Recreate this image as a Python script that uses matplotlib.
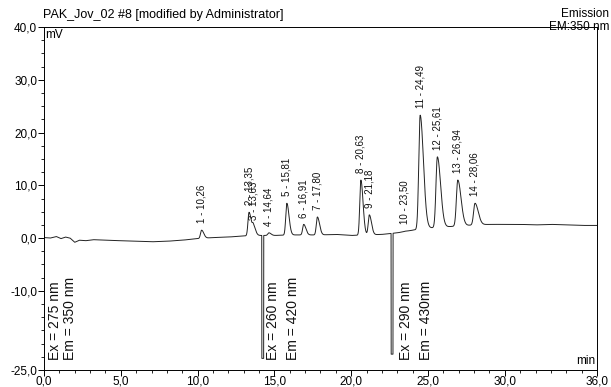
import matplotlib.pyplot as plt
from matplotlib.ticker import FuncFormatter, MultipleLocator
import numpy as np

plt.rcParams['font.family'] = ['Liberation Sans', 'DejaVu Sans']

# peak table (retention time in min, apex in mV)
peak_no = [1, 2, 3, 4, 5, 6, 7, 8, 9, 10, 11, 12, 13, 14]
peak_rt = [10.26, 13.35, 13.63, 14.64, 15.81, 16.91, 17.80, 20.63, 21.18, 23.50, 24.49, 25.61, 26.94, 28.06]
peak_apex = [1.5, 4.9, 2.2, 1.0, 6.6, 2.6, 4.0, 11.0, 4.4, 1.3, 23.3, 15.4, 11.0, 6.6]

# baseline drift / noise, read point by point
base_t = [0, 0.4, 0.8, 1.1, 1.4, 1.7, 2.0, 2.3, 2.7, 3.2, 4, 5, 6, 7, 8, 9, 10, 11, 12, 13,
          14, 15, 16, 17, 18, 19, 20, 21, 22, 23, 24, 25, 26, 27, 28, 29, 30, 31, 32, 33, 34, 35, 36]
base_v = [0.1, 0.0, 0.3, -0.1, 0.2, 0.0, -0.8, -0.4, -0.5, -0.3, -0.4, -0.5, -0.6, -0.7, -0.6, -0.4, -0.1, 0.1, 0.2, 0.4,
          0.5, 0.5, 0.6, 0.6, 0.6, 0.7, 0.5, 0.6, 0.7, 1.0, 1.5, 1.9, 2.1, 2.3, 2.5, 2.6, 2.6, 2.6, 2.5, 2.6, 2.5, 2.4, 2.4]

# lamp-switch notches (wavelength program changes)
dip_start = [14.18, 22.60]
dip_end = [14.30, 22.72]
dip_depth = [-22.8, -22.0]

notes = [("Ex = 275 nm", "Em = 350 nm", 0.7, 1.7),
         ("Ex = 260 nm", "Em = 420 nm", 14.9, 16.2),
         ("Ex = 290 nm", "Em = 430nm", 23.6, 24.9)]

t = np.arange(0, 36.0001, 0.004)
y = np.interp(t, base_t, base_v)
for rt, apex in zip(peak_rt, peak_apex):
    h = apex - np.interp(rt, base_t, base_v)
    sl = 0.07 if rt < 24 else 0.09
    sr = 0.14 if rt < 24 else 0.21
    s = np.where(t < rt, sl, sr)
    y = y + h * np.exp(-0.5 * ((t - rt) / s) ** 2)
for a, b, d in zip(dip_start, dip_end, dip_depth):
    y[(t >= a) & (t <= b)] = d

fig = plt.figure(figsize=(6.11, 3.87), dpi=100)
ax = fig.add_axes([0.072, 0.044, 0.905, 0.886])
ax.plot(t, y, color='#222222', lw=0.7)

ax.set_xlim(0, 36)
ax.set_ylim(-25, 40)
ax.set_xticks([0, 5, 10, 15, 20, 25, 30, 36])
ax.set_yticks([40, 30, 20, 10, 0, -10, -25])
ax.xaxis.set_minor_locator(MultipleLocator(1))
ax.yaxis.set_minor_locator(MultipleLocator(2.5))
comma = FuncFormatter(lambda v, p: f"{v:.1f}".replace(".", ","))
ax.xaxis.set_major_formatter(comma)
ax.yaxis.set_major_formatter(comma)
ax.tick_params(which='major', length=4, width=0.7, labelsize=8.5, pad=1)
ax.tick_params(axis='x', which='major', pad=0)
ax.tick_params(which='minor', length=2, width=0.6)
for sp in ax.spines.values():
    sp.set_linewidth(0.7)
ax.spines['right'].set_linestyle((0, (2, 1)))

for n, rt, apex in zip(peak_no, peak_rt, peak_apex):
    ax.text(rt, apex + 1.3, f"{n} - {rt:.2f}".replace(".", ","), rotation=90,
            ha='center', va='bottom', fontsize=7, color='#111111')

for ex, em, x1, x2 in notes:
    ax.text(x1, -23.2, ex, rotation=90, ha='center', va='bottom', fontsize=10, color='#111111')
    ax.text(x2, -23.2, em, rotation=90, ha='center', va='bottom', fontsize=10, color='#111111')

fig.text(0.070, 0.945, "PAK_Jov_02 #8 [modified by Administrator]", fontsize=9, va='bottom')
fig.text(0.997, 0.948, "Emission", fontsize=8.5, ha='right', va='bottom')
fig.text(0.997, 0.915, "EM:350 nm", fontsize=8.5, ha='right', va='bottom')
ax.text(0.003, 0.995, "mV", transform=ax.transAxes, fontsize=8.5, va='top')
ax.text(0.997, 0.01, "min", transform=ax.transAxes, fontsize=8.5, ha='right', va='bottom')

fig.savefig("out.png", dpi=100)
